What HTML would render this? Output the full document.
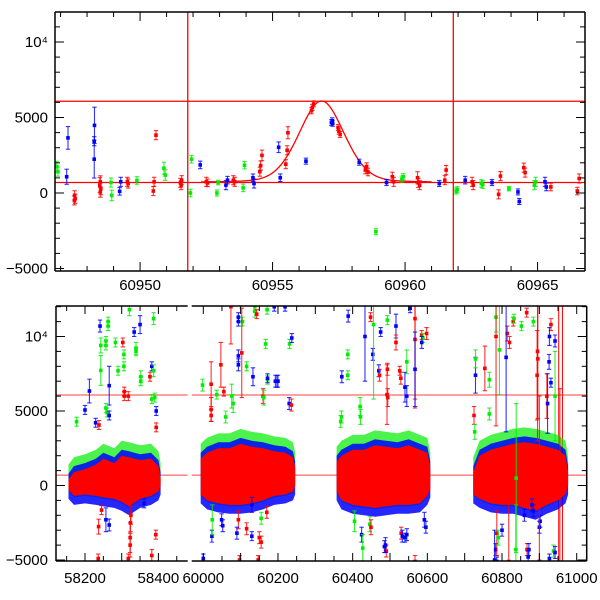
<!DOCTYPE html>
<html><head><meta charset="utf-8">
<style>
html,body{margin:0;padding:0;background:#fff;width:600px;height:600px;overflow:hidden;position:relative;}
svg{display:block;position:absolute;left:0;top:0;font-family:"Liberation Sans",Arial,sans-serif;}
</style></head>
<body>
<svg id="chart" width="600" height="600" viewBox="0 0 600 600" xmlns="http://www.w3.org/2000/svg">
<defs>
<clipPath id="cTop"><rect x="55" y="12" width="530" height="259"/></clipPath>
<clipPath id="cB1"><rect x="56" y="306" width="131.7" height="255"/></clipPath>
<clipPath id="cB2"><rect x="191.7" y="306" width="395" height="255"/></clipPath>
</defs>
</svg>
<script>
// ---------- TOP PANEL DATA ----------
const topT=[60946.86,60946.9,60947.23,60947.28,60947.53,60947.55,60947.52,60948.27,60948.28,60948.27,60948.48,60948.5,60948.52,60948.5,60948.9,60948.93,60949.23,60949.27,60949.52,60949.55,60949.88,60950.5,60950.53,60950.6,60950.9,60950.95,60951.52,60951.55,60951.57,60951.9,60951.94,60952.27,60952.5,60952.55,60952.9,60952.95,60953.24,60953.3,60953.52,60953.57,60953.89,60953.94,60954.26,60954.3,60954.52,60954.55,60954.6,60955.23,60955.29,60955.5,60955.55,60955.58,60956.26,60956.47,60956.5,60956.55,60957.22,60957.27,60957.25,60957.47,60957.5,60957.55,60958.27,60958.5,60958.55,60958.6,60958.9,60959.3,60959.52,60959.57,60959.88,60959.93,60960.47,60960.5,60960.55,60961.29,60961.5,60961.55,60961.93,60961.97,60962.27,60962.53,60962.57,60962.88,60962.93,60963.28,60963.53,60963.6,60963.92,60964.26,60964.31,60964.48,60964.53,60964.88,60964.93,60965.28,60965.33,60965.5,60966.5,60966.57];
const topV=[1750,1410,1076,3650,-150,-380,-490,2240,4480,3430,520,740,290,70,695,-160,110,740,740,630,830,130,740,3830,1640,1190,670,520,850,0,2240,1860,740,670,0,695,520,850,850,740,340,1840,1010,630,1410,1820,2490,3030,1010,1910,2830,3990,2110,5450,5670,5900,4660,4620,4780,4330,4100,3880,2040,1520,1750,1390,-2560,695,1076,740,920,1076,1010,670,520,630,850,1520,130,220,850,740,520,630,560,695,-90,1120,290,70,-560,1680,1350,520,740,740,400,400,130,960];
const topE=[350,300,500,750,300,300,300,1250,1200,300,500,400,400,350,300,350,250,300,300,300,250,300,300,300,400,350,300,300,300,250,250,250,300,250,200,150,300,250,300,300,250,250,250,300,300,300,350,350,250,300,300,400,200,200,200,200,200,200,200,200,200,200,200,250,250,250,200,200,300,300,200,200,400,300,300,200,300,300,200,200,250,300,300,250,250,200,300,300,150,200,200,300,300,300,300,300,250,250,250,300];
const topC="ggbbrrrbbbrrrrggbbrrgrrrggrrrggbrrggbbrrggbbrrrbbrrrbrrrbbbrrrbrrrgbrrggrrrbrrggbrrggbrrgbbrrggbbrrr";
const modelBase=[695], modelAmp=[5400], modelT0=[60956.85], modelRange=[60952.3,60961.0];
const topHLines=[6076,695], topVLines=[60951.8,60961.82];
const topXTicks=[60950,60955,60960,60965];
const yTickVals=[-5000,0,5000,10000];
const yTickLabels=["\u22125000","0","5000","10\u2074"];

// ---------- BOTTOM PANEL DATA ----------
const core1T=[58155,58170,58200,58230,58250,58280,58300,58320,58350,58380,58400,58406];
const core1Hi=[400,900,1100,1400,1800,1500,2000,1900,1700,1800,1300,500];
const core1Lo=[-300,-700,-600,-700,-800,-900,-1100,-1400,-900,-700,-400,0];
const core2T=[59993,60010,60040,60070,60100,60130,60160,60190,60220,60240,60246];
const core2Hi=[1800,2200,2500,2500,2800,2600,2500,2300,2200,1900,1200];
const core2Lo=[-600,-1000,-1200,-1300,-1300,-1200,-1000,-700,-600,-400,0];
const core3T=[60357,60370,60400,60430,60460,60490,60520,60550,60580,60600,60608];
const core3Hi=[1600,2000,2400,2400,2700,2600,2500,2700,2400,2200,1200];
const core3Lo=[-400,-1000,-1300,-1400,-1500,-1400,-1300,-1300,-1200,-700,-200];
const core4T=[60723,60740,60770,60800,60830,60860,60890,60920,60950,60970,60977];
const core4Hi=[900,2000,2400,2600,2800,2900,2800,2600,2400,2000,900];
const core4Lo=[-600,-900,-1200,-1300,-1300,-1500,-1700,-1300,-1000,-600,0];
const out1T=[58177,58200,58212,58229,58238,58241,58243,58243,58257,58257,58263,58263,58266,58283,58290,58303,58306,58306,58307,58307,58321,58318,58334,58339,58339,58350,58352,58352,58377,58382,58387,58387,58394,58382,58390,58394,58257,58260,58266,58237,58236,58245,58257,58266,58323,58323,58324,58325,58318,58361,58393,58382];
const out1V=[4280,5070,6340,4210,4060,10700,9400,7720,9700,9400,11000,10700,6700,9600,7700,9600,8800,8000,6300,6000,11800,6000,10300,9200,9000,10800,7300,7000,7300,8000,7700,11200,5000,5800,5900,3900,5200,4900,4700,-2760,-4900,-1650,-2300,-2650,-3500,-4000,-2500,-2000,-4900,-1200,-3300,-4700];
const out1E=[300,300,800,300,300,400,500,1000,300,300,300,300,1300,300,300,300,300,300,300,300,400,300,300,400,300,600,400,300,300,300,400,400,300,300,300,300,300,300,300,500,300,300,800,400,1000,800,600,600,300,300,300,400];
const out1C="gbbbrbggggggbggrggrrgrbggbggrbggbggrggbrrrbbrrrrrbrr";
const out2T=[59998,60021,60021,60021,60036,60055,60047,60074,60094,60094,60094,60094,60105,60103,60116,60138,60138,60143,60133,60167,60171,60172,60172,60190,60193,60197,60200,60219,60231,60237,60230,60236,60160,60162,60076,60080,60060,60000,60023,60024,60049,60052,60094,60097,60090,60116,60130,60150,60155,60147,60130,60155,60170,
60388,60371,60387,60387,60448,60433,60454,60456,60475,60493,60470,60472,60493,60516,60516,60526,60545,60529,60554,60567,60567,60567,60585,60588,60598,60585,60492,60494,60540,60545,60368,60370,60420,60421,60424,60427,60405,60446,60449,60490,60485,60488,60530,60533,60540,60545,60567,60596,60592,
60754,60766,60729,60729,60784,60784,60814,60820,60793,60811,60830,60832,60852,60866,60884,60895,60896,60894,60931,60927,60926,60942,60920,60922,60931,60942,60725,60727,60766,60780,60783,60786,60818,60786,60790,60837,60867,60870,60872,60800,60900,60902,60927,60938,60942,60880,60884,60860,60838,60955,60900];
const out2V=[6740,5100,4700,6800,6100,6300,8100,12000,11300,11000,8700,8100,11000,8900,8000,11700,12000,11500,7300,9500,11800,7100,7200,12000,7000,7000,7000,12000,9500,9900,5500,5400,6000,5900,6000,5500,4600,-4900,-3400,-2300,-2300,-2700,-2300,-5000,-3200,-2900,-3400,-3500,-3800,-5000,-1300,-2200,-1800,
11370,7300,8800,7400,11300,10000,8800,10800,10300,11100,7700,7400,7800,10700,9600,7700,8300,7200,11900,9800,11200,7800,10100,9900,10200,9600,6100,5900,6600,6000,4300,4600,5300,4600,-3300,-4200,-2400,-2600,-2800,-4400,-4100,-4000,-3200,-3400,-3500,-3300,-5100,-2800,-2300,
7860,7100,7400,8500,11300,10000,10200,9600,9100,8600,11000,11200,10700,11600,11000,9000,8500,7400,10800,10000,8300,9700,6000,5500,6900,6000,4700,3600,4800,-5000,-4300,-5100,-5100,-3200,-3500,-4300,-4300,-4800,-4300,-3000,-2800,-2400,-4900,-4400,-4500,-1300,-1700,-2000,500,500,500];
const out2E=[400,800,400,1500,300,300,1500,2500,300,300,400,400,300,3000,300,400,300,300,600,300,300,300,300,300,400,400,400,300,300,300,400,400,500,500,800,600,400,300,400,1000,400,400,600,300,400,400,300,400,400,300,500,400,400,
400,400,300,300,300,3000,400,5000,300,300,400,400,400,800,500,300,800,400,300,4000,6000,2500,300,300,400,400,2000,600,1000,700,400,400,600,500,500,900,700,500,500,400,400,500,400,400,300,400,400,400,500,
1500,500,1200,600,1000,6000,500,400,3000,5000,300,300,300,300,300,6000,4000,3000,400,600,500,400,1500,2000,300,3000,600,500,400,2000,400,300,6000,1500,500,3000,400,400,400,400,400,400,300,400,400,400,400,400,5000,6000,5500];
const out2C="grrrgrrrbbbbgrgggrbgggbbbbbbgbbrrgggg"+"bbgbbrrbrbrrrbgr"+"bbggrbbgbgbrrbrrgrbrrbrgrbrrbbggggbgggrrbbrbbbrbbr"+"gbggrrrgbrggrgrrrrbbbrbbgrggbbbrrggrbbbbbbgbbbbgrrr";
const hLinesB=[6076,695];
const b1XTicks=[58200,58400], b2XTicks=[60000,60200,60400,60600,60800,61000];

// ---------- SCALES ----------
const svg=document.getElementById('chart');
const NS='http://www.w3.org/2000/svg';
const xT=t=>55+(t-60946.79)*26.5;
const yT=v=>193-v*0.0151;
const xB1=t=>85+(t-58200)*0.367;
const xB2=t=>203.3+(t-60000)*0.3734;
const yB=v=>485.5-v*0.0149;
const COL={r:'#ff0000',g:'#00ee00',b:'#0000ff'};
function mk(tag,attrs,parent){const e=document.createElementNS(NS,tag);for(const k in attrs)e.setAttribute(k,attrs[k]);(parent||svg).appendChild(e);return e;}
const clampY=(y,a,b)=>Math.max(a,Math.min(b,y));

// ---------- TOP PANEL ----------
const gTop=mk('g',{'clip-path':'url(#cTop)'});


topHLines.forEach(v=>{const l=mk('line',{x1:55,x2:585,y1:yT(v),y2:yT(v),stroke:'#ff0000','stroke-width':1.3},gTop);

});
topVLines.forEach(t=>{const l=mk('line',{x1:xT(t),x2:xT(t),y1:12,y2:271,stroke:'#ff0000','stroke-width':1.3},gTop);

});
(function(){let d='';for(let t=modelRange[0];t<=modelRange[1];t+=0.02){const dt=t-modelT0[0];
const f=0.82*Math.exp(-dt*dt/(2*0.86*0.86))+0.18/(1+dt*dt/0.9);
const v=modelBase[0]+modelAmp[0]*f;d+=(d?'L':'M')+xT(t).toFixed(2)+' '+yT(v).toFixed(2);}
const p=mk('path',{d:d,fill:'none',stroke:'#ff0000','stroke-width':1.3},gTop);

})();
function point(g,x,y,yl,yh,c,ya,yb){
 yl=clampY(yl,ya,yb);yh=clampY(yh,ya,yb);
 const grp=mk('g',{},g);
 
 
 mk('line',{x1:x,x2:x,y1:yl,y2:yh,stroke:c,'stroke-width':1.1,'stroke-opacity':0.8},grp);
 mk('line',{x1:x-2.2,x2:x+2.2,y1:yl,y2:yl,stroke:c,'stroke-width':1.1,'stroke-opacity':0.8},grp);
 mk('line',{x1:x-2.2,x2:x+2.2,y1:yh,y2:yh,stroke:c,'stroke-width':1.1,'stroke-opacity':0.8},grp);
 mk('rect',{x:x-1.8,y:y-1.8,width:3.6,height:3.6,fill:c},grp);
}
topT.forEach((t,i)=>{const c=COL[topC[i]]||COL.r;point(gTop,xT(t),yT(topV[i]),yT(topV[i]-topE[i]),yT(topV[i]+topE[i]),c,12,271);});

function frame(x0,x1,y0,y1,name,sides){
 const g=mk('g',{});
 
 
 if(sides.includes('t'))mk('line',{x1:x0,x2:x1,y1:y0,y2:y0,stroke:'#000','stroke-width':1.5},g);
 if(sides.includes('b'))mk('line',{x1:x0,x2:x1,y1:y1,y2:y1,stroke:'#000','stroke-width':1.5},g);
 if(sides.includes('l'))mk('line',{x1:x0,x2:x0,y1:y0,y2:y1,stroke:'#000','stroke-width':1.5},g);
 if(sides.includes('r'))mk('line',{x1:x1,x2:x1,y1:y0,y2:y1,stroke:'#000','stroke-width':1.5},g);
 return g;
}
const fT=frame(55,585,12,271,'top-frame','tblr');
for(let t=60947;t<=60966;t++){const x=xT(t),L=(t%5===0)?9:5;
 mk('line',{x1:x,x2:x,y1:271,y2:271-L,stroke:'#000','stroke-width':1},fT);
 mk('line',{x1:x,x2:x,y1:12,y2:12+L,stroke:'#000','stroke-width':1},fT);}
for(let v=-5000;v<=11000;v+=1000){const y=yT(v),L=(v%5000===0)?9:5;
 mk('line',{x1:55,x2:55+L,y1:y,y2:y,stroke:'#000','stroke-width':1},fT);
 mk('line',{x1:585,x2:585-L,y1:y,y2:y,stroke:'#000','stroke-width':1},fT);}
topXTicks.forEach(t=>{const tx=mk('text',{x:xT(t),y:290,'font-size':15,'text-anchor':'middle'});tx.textContent=t;

});
function yLabel(y,i){const tx=mk('text',{x:48,y:y+5,'font-size':15,'text-anchor':'end'});tx.textContent=yTickLabels[i];

}
yTickVals.forEach((v,i)=>yLabel(yT(v),i));

// ---------- BOTTOM PANEL ----------
function corePoly(g,xs,ts,hi,lo,dh,dl,col,op){
 let d='';ts.forEach((t,i)=>{d+=(d?'L':'M')+xs(t)+' '+yB(hi[i]+dh);});
 for(let i=ts.length-1;i>=0;i--)d+='L'+xs(ts[i])+' '+yB(lo[i]-dl);
 const p=mk('path',{d:d+'Z',fill:col,'fill-opacity':op},g);
 
 
}
const gB1=mk('g',{'clip-path':'url(#cB1)'});


const gB2=mk('g',{'clip-path':'url(#cB2)'});


[[gB1,56,187.7],[gB2,191.7,586.7]].forEach(([g,a,b])=>hLinesB.forEach(v=>{const l=mk('line',{x1:a,x2:b,y1:yB(v),y2:yB(v),stroke:'#ff4040','stroke-width':1},g);

}));
topVLines.forEach(t=>{const l=mk('line',{x1:xB2(t),x2:xB2(t),y1:306,y2:561,stroke:'#ff0000','stroke-width':1},gB2);

});
const cores=[[gB1,xB1,core1T,core1Hi,core1Lo],[gB2,xB2,core2T,core2Hi,core2Lo],[gB2,xB2,core3T,core3Hi,core3Lo],[gB2,xB2,core4T,core4Hi,core4Lo]];
cores.forEach(([g,xs,t,h,l])=>{corePoly(g,xs,t,h,l,1000,100,'#00ee00',0.7);corePoly(g,xs,t,h,l,400,600,'#0000ff',0.85);corePoly(g,xs,t,h,l,0,0,'#ff0000',1);});
out1T.forEach((t,i)=>{const c=COL[out1C[i]]||COL.r;point(gB1,xB1(t),yB(out1V[i]),yB(out1V[i]-out1E[i]),yB(out1V[i]+out1E[i]),c,306,561);});
out2T.forEach((t,i)=>{const c=COL[out2C[i]]||COL.r;point(gB2,xB2(t),yB(out2V[i]),yB(out2V[i]-out2E[i]),yB(out2V[i]+out2E[i]),c,306,561);});

const fB1=frame(56,187.7,306,561,'bottom-left-frame','tbl');
const fB2=frame(191.7,586.7,306,561,'bottom-right-frame','tbr');
for(let t=58150;t<=58450;t+=50){const x=xB1(t),L=(t%100===0)?8:5;
 mk('line',{x1:x,x2:x,y1:561,y2:561-L,stroke:'#000','stroke-width':1},fB1);
 mk('line',{x1:x,x2:x,y1:306,y2:306+L,stroke:'#000','stroke-width':1},fB1);}
for(let t=60000;t<=61000;t+=50){const x=xB2(t),L=(t%100===0)?8:5;
 mk('line',{x1:x,x2:x,y1:561,y2:561-L,stroke:'#000','stroke-width':1},fB2);
 mk('line',{x1:x,x2:x,y1:306,y2:306+L,stroke:'#000','stroke-width':1},fB2);}
for(let v=-5000;v<=12000;v+=1000){const y=yB(v),L=(v%5000===0)?9:5;
 mk('line',{x1:56,x2:56+L,y1:y,y2:y,stroke:'#000','stroke-width':1},fB1);
 mk('line',{x1:586.7,x2:586.7-L,y1:y,y2:y,stroke:'#000','stroke-width':1},fB2);}
b1XTicks.forEach(t=>{const tx=mk('text',{x:xB1(t),y:583,'font-size':15,'text-anchor':'middle'});tx.textContent=t;

});
b2XTicks.forEach(t=>{const tx=mk('text',{x:xB2(t),y:583,'font-size':15,'text-anchor':'middle'});tx.textContent=t;

});
yTickVals.forEach((v,i)=>yLabel(yB(v),i));
</script>
</body></html>
